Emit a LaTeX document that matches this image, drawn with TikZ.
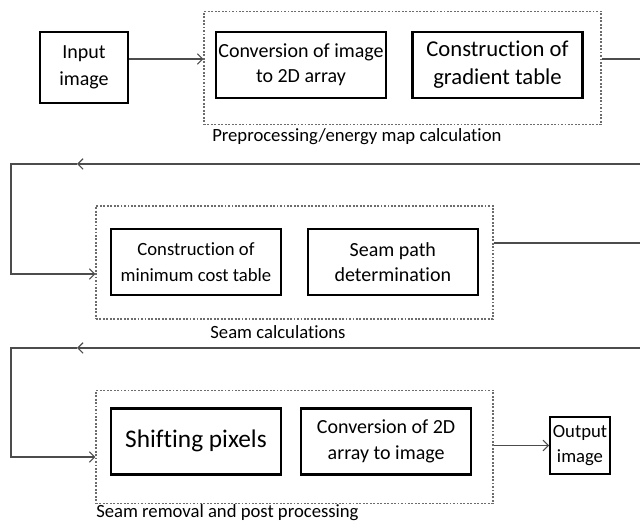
\documentclass[tikz,border=0pt]{standalone}
\usepackage{fontspec}
\setmainfont{Carlito}[Ligatures=NoCommon]
\usetikzlibrary{arrows.meta, positioning}

\begin{document}
\begin{tikzpicture}[
  x=0.75pt, y=-0.75pt,
  >={Straight Barb[length=4pt,width=8pt]},
  groupbox/.style={draw=gray!85!black, dash pattern=on 1.4pt off 1.2pt, line width=0.8pt, minimum width=297.75pt, minimum height=84.75pt},
  procbox/.style={draw, line width=1.6pt, minimum width=127.5pt, minimum height=49.5pt, inner sep=2pt, align=center, font=\fontsize{15}{19}\selectfont},
  iobox/.style={draw, line width=1.6pt, inner sep=2pt, align=center},
  grouplabel/.style={inner sep=0pt, font=\fontsize{14}{17}\selectfont},
  flow/.style={->, draw=gray!60!black, line width=0.8pt},
  link/.style={draw=gray!60!black, line width=0.8pt}
]
\useasboundingbox (0,0) rectangle (640,523);

% Stage 1: preprocessing
\node[groupbox] (pre)   at (402.5,68) {};
\node[iobox, minimum width=66pt, minimum height=53.25pt, font=\fontsize{15}{20}\selectfont]
                (input) at (84,67.5) {Input\\image};
\node[procbox]  (conv)  at (301,65) {Conversion of image\\to 2D array};
\node[procbox, font=\fontsize{17}{21}\selectfont]
                (grad)  [right=18pt of conv] {Construction of\\gradient table};
\node[grouplabel, anchor=west] (prelbl) at (212,137) {Preprocessing/energy map calculation};

% Stage 2: seam calculations
\node[groupbox] (calc)  at (294.5,262.5) {};
\node[procbox, font=\fontsize{14}{19}\selectfont]
                (mincost) at (196,262) {Construction of\\minimum cost table};
\node[procbox]  (path)  [right=18.5pt of mincost] {Seam path\\determination};
\node[grouplabel] (calclbl) at (278,332) {Seam calculations};

% Stage 3: seam removal
\node[groupbox] (post)  at (294.5,447) {};
\node[procbox, font=\fontsize{19}{23}\selectfont]
                (shift) at (196,441.5) {\raisebox{4pt}{Shifting pixels}};
\node[procbox]  (conv2) [right=13.5pt of shift] {Conversion of 2D\\array to  image};
\node[iobox, minimum width=42pt, minimum height=42.75pt, font=\fontsize{14}{19}\selectfont]
                (output) at (580,445.5) {Output\\image};
\node[grouplabel, anchor=west] (postlbl) at (96,513) {Seam removal and post processing};

% Loop-back coordinates
\coordinate (e1) at (640,59);
\coordinate (e2) at (640,164);
\coordinate (k1) at (77,164);
\coordinate (c1) at (11,164);
\coordinate (in2) at (calc.west |- 0,274);
\coordinate (e3) at (640,243);
\coordinate (e4) at (640,348);
\coordinate (k2) at (77,348);
\coordinate (c2) at (11,348);
\coordinate (in3) at (post.west |- 0,457);

% Flows
\draw[flow] (input.east |- e1) -- (pre.west |- e1);
\draw[link] (pre.east |- e1) -- (e1);
\draw[flow] (e2) -- (k1);
\draw[flow] (k1) -- (c1) |- (in2);
\draw[link] (calc.east |- e3) -- (e3);
\draw[flow] (e4) -- (k2);
\draw[flow] (k2) -- (c2) |- (in3);
\draw[flow] (post.east |- output) -- (output);
\end{tikzpicture}
\end{document}
